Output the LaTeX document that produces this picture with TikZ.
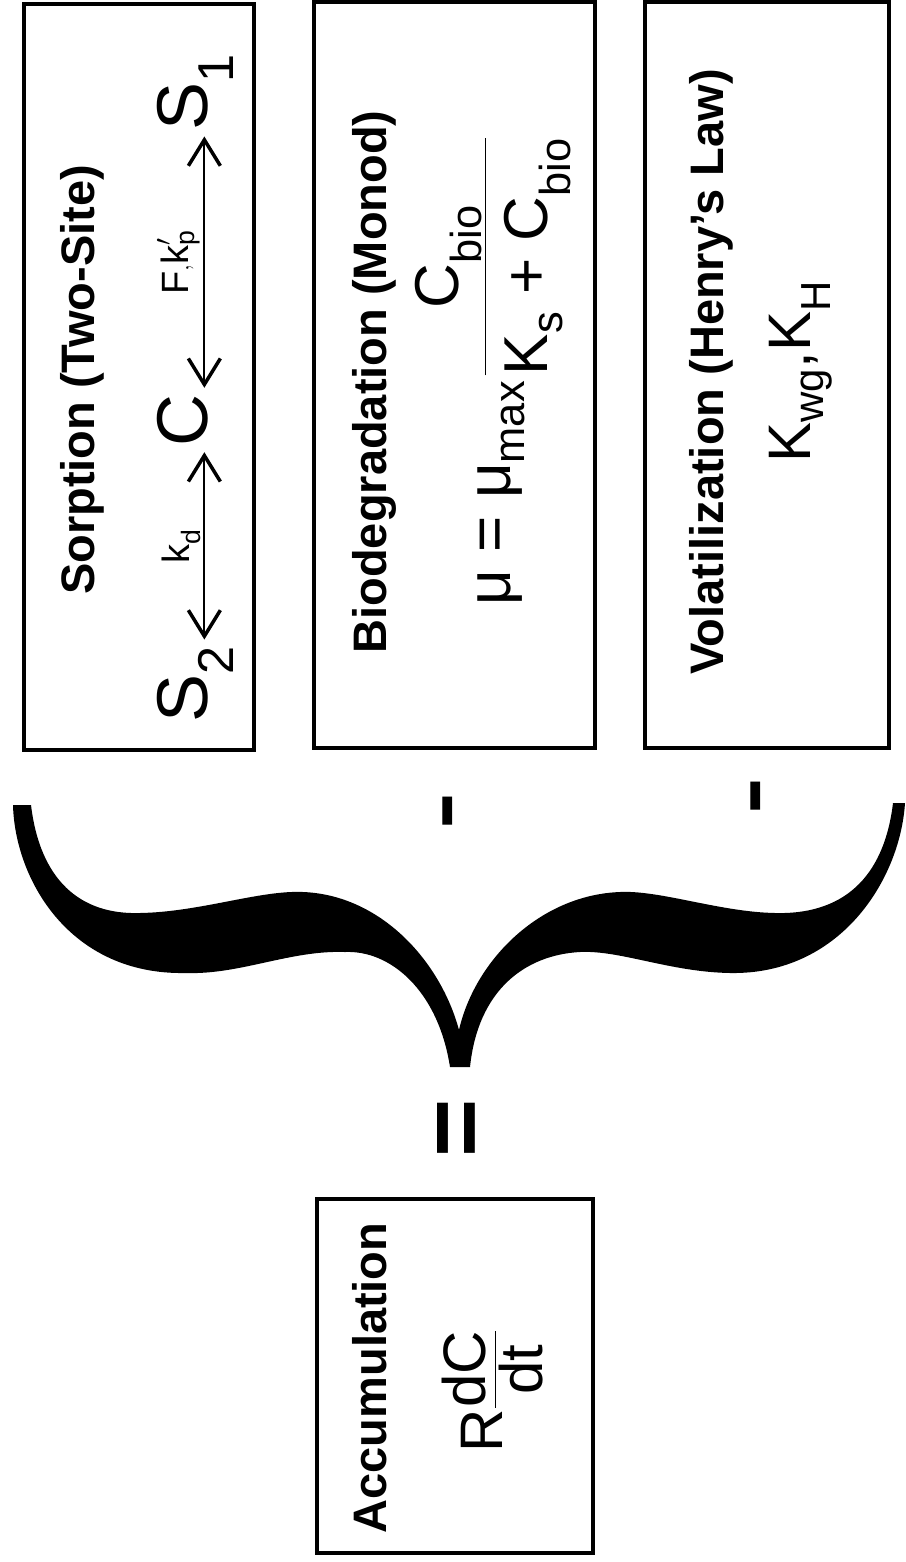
\documentclass[tikz,border=0pt]{standalone}
\usepackage{amsmath}
\usepackage{fontspec}
\setmainfont{Liberation Sans}
\usetikzlibrary{arrows.meta}

\begin{document}
\begin{tikzpicture}[
  x=1pt, y=-1pt,
  box/.style={draw,line width=3.2pt,rotate=90,inner sep=0pt},
  heading/.style={rotate=90,anchor=base,font=\fontsize{47}{50}\selectfont\bfseries},
  formula/.style={rotate=90,anchor=base,font=\fontsize{60}{64}\selectfont},
  symb/.style={rotate=90,anchor=base,font=\fontsize{72}{76}\selectfont,inner sep=6pt},
  rate/.style={font=\fontsize{38}{40}\selectfont,inner sep=3pt},
  biarrow/.style={{Straight Barb[length=26pt,width=32pt,line width=3.5pt]}-{Straight Barb[length=26pt,width=32pt,line width=3.5pt]},line width=2pt},
  opsign/.style={rotate=90,inner sep=0pt,font=\fontsize{56}{56}\selectfont\bfseries}
]
\useasboundingbox (0,0) rectangle (905,1562);

\node[box,minimum width=746pt,minimum height=230pt] (sorpbox) at (139,377) {};
\node[box,minimum width=746pt,minimum height=281pt] (biobox) at (454.5,375) {};
\node[box,minimum width=746pt,minimum height=244pt] (volbox) at (767,375) {};
\node[box,minimum width=354pt,minimum height=276pt] (accbox) at (455,1376) {};

\node[heading] (sorptitle) at (94,380) {Sorption (Two-Site)};
\node[heading] (biotitle) at (386,382) {Biodegradation (Monod)};
\node[heading] (voltitle) at (723,372) {Volatilization (Henry’s Law)};
\node[heading] (acctitle) at (386,1378) {Accumulation};

\node[symb] (s2) at (207,684) {$\mathrm{S}_{\mathrm{2}}$};
\node[symb] (c) at (207,420) {C};
\node[symb] (s1) at (207,92) {$\mathrm{S}_{\mathrm{1}}$};
\draw[biarrow] (s2.mid east) -- node[rate,above,sloped] {$\mathrm{k}_{\mathrm{d}}$} (c.mid west);
\draw[biarrow] (c.mid east) -- node[rate,above,sloped] {$\mathrm{F{,}k}'_{\mathrm{p}}$} (s1.mid west);

\node[formula,font=\fontsize{62}{66}\selectfont] (monod) at (510,371)
  {$\text{μ}\text{ = }\text{μ}_{\mathrm{max}}\,\raisebox{0.3em}{$\displaystyle\frac{\mathrm{C}_{\mathrm{bio}}\rule[-0.3em]{0pt}{0pt}}{\rule{0pt}{0.95em}\mathrm{K}_{\mathrm{s}}\text{ + }\mathrm{C}_{\mathrm{bio}}}$}$};
\node[formula] (henry) at (810,372) {$\mathrm{K}_{\mathrm{wg}}\text{,}\mathrm{K}_{\mathrm{H}}$};
\node[formula] (rate) at (502,1391) {$\mathrm{R}\dfrac{\mathrm{dC}}{\mathrm{dt}}$};

\node[opsign] (minusA) at (460,811) {\scalebox{1}[1.6]{−}};
\node[opsign] (minusB) at (768,796) {\scalebox{1}[1.6]{−}};
\node[opsign,font=\fontsize{100}{100}\selectfont\bfseries] (equal) at (463,1128) {=};

% brace
\fill (13,805) -- (31,805)
  .. controls (40,880) and (80,915) .. (140,913)
  .. controls (200,912) and (260,890) .. (303,892)
  .. controls (380,895) and (440,960) .. (459,1030)
  .. controls (475,960) and (540,895) .. (620,892)
  .. controls (660,890) and (720,912) .. (775,913)
  .. controls (850,915) and (885,870) .. (893,803)
  -- (905,803)
  .. controls (900,880) and (840,975) .. (730,973)
  .. controls (670,972) and (620,950) .. (580,952)
  .. controls (525,955) and (478,990) .. (470,1067)
  -- (450,1067)
  .. controls (438,990) and (390,950) .. (345,952)
  .. controls (290,950) and (240,975) .. (185,973)
  .. controls (70,975) and (15,880) .. (13,805) -- cycle;
\end{tikzpicture}
\end{document}
